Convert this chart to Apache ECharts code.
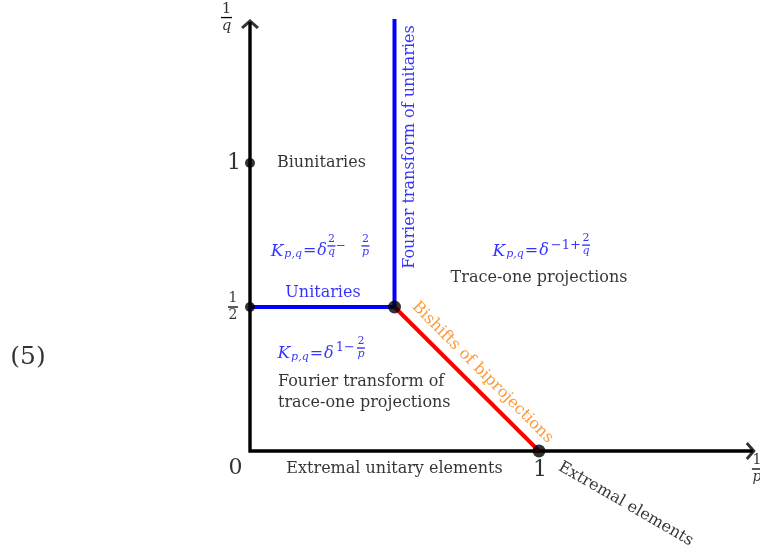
<!DOCTYPE html>
<html>
<head>
<meta charset="utf-8">
<script src="https://cdn.jsdelivr.net/npm/echarts@6/dist/echarts.min.js"></script>
<style>html,body{margin:0;padding:0;background:#fff}#chart{width:760px;height:552px}</style>
</head>
<body>
<div id="chart"></div>
<script>
// ---------- data (diagram coordinates: x = 1/p, y = 1/q) ----------
const axisPath = [[0, 1.49], [0, 0], [1.74, 0]];
const xArrowTip = [1.75, 0];
const yArrowTip = [0, 1.5];
const unitariesSegment = [[0, 0.5], [0.5, 0.5]];
const fourierSegment = [[0.5, 0.5], [0.5, 1.5]];
const bishiftSegment = [[0.5, 0.5], [1, 0]];
const smallDots = [[0, 1], [0, 0.5]];
const bigDots = [[0.5, 0.5], [1, 0]];

const regionTexts = [
  'Biunitaries',
  'Unitaries',
  'Fourier transform of unitaries',
  'Trace-one projections',
  'Bishifts of biprojections',
  'Fourier transform of\ntrace-one projections',
  'Extremal unitary elements',
  'Extremal elements'
];
const regionAnchors = [
  [0.093, 1.0], [0.2526, 0.5486], [0.5536, 1.0556], [1.0, 0.6007],
  [0.8045, 0.2726], [0.0969, 0.2031], [0.5, -0.0625], [1.30, -0.184]
];
const tickTexts = ['0', '1', '1'];
const tickAnchors = [[-0.0502, -0.059], [-0.055, 1.0], [1.0035, -0.066]];
const fracNums = ['1', '1', '1'];
const fracDens = ['q', '2', 'p'];
const fracAnchors = [[-0.0813, 1.505], [-0.0588, 0.5], [1.754, -0.0625]];
const equationTag = '(5)';
const equationAnchor = [-0.768, 0.323];

const formulaSups = ['', '1−', '−1+'];
const formulaFracs = [[['2', 'q'], ['2', 'p']], [['2', 'p']], [['2', 'q']]];
const formulaMainAnchors = [[0.2664, 0.694], [0.363, 0.337], [1.145, 0.694]];
const formulaFracAnchors = [[0.268, 0.712], [0.370, 0.3576], [1.149, 0.715]];

// ---------- styling ----------
const SERIF = 'DejaVu Serif';
const BLUE = '#0000ff', RED = '#ff0000', ORANGE = '#ff8000', INK = '#000000';
const regionColors = [INK, BLUE, BLUE, INK, ORANGE, INK, INK, INK];
const regionRotate = [0, 0, 90, 0, -45, 0, 0, -30];
const regionAlign = ['left', 'center', 'center', 'center', 'center', 'left', 'center', 'center'];
const EXP_W = 8, EXP_GAP = 26;

function fs(extra) { return Object.assign({ fontFamily: SERIF }, extra); }
function isLetter(s) { return /[a-z]/.test(s); }

function labelItem(at, text, opts) {
  return {
    value: at,
    label: Object.assign({
      show: true, position: 'inside', formatter: () => text,
      fontFamily: SERIF, color: INK, fontSize: 16,
      align: 'center', verticalAlign: 'middle'
    }, opts)
  };
}

const labelData = [];
regionTexts.forEach((t, i) => {
  labelData.push(labelItem(regionAnchors[i], t, {
    color: regionColors[i], rotate: regionRotate[i], align: regionAlign[i], lineHeight: 21
  }));
});
tickTexts.forEach((t, i) => {
  labelData.push(labelItem(tickAnchors[i], t, { fontSize: 22 }));
});
labelData.push(labelItem(equationAnchor, equationTag, { fontSize: 25 }));

const fracWidths = [11, 10, 10];
fracNums.forEach((n, i) => {
  const d = fracDens[i];
  const size = i === 0 ? 15 : 14;
  const w = fracWidths[i];
  labelData.push(labelItem(fracAnchors[i], `{fn|${n}}\n{fb| }\n{fd|${d}}`, {
    rich: {
      fn: fs({ color: INK, fontSize: size, width: w, align: 'center', lineHeight: 13 }),
      fb: fs({ width: w, fontSize: 4, lineHeight: 4 }),
      fd: fs({ color: INK, fontSize: size, width: w, align: 'center', lineHeight: 13,
               fontStyle: isLetter(d) ? 'italic' : 'normal' })
    }
  }));
});

formulaSups.forEach((sup, i) => {
  const main = '{fk|K}{fsb|p,q}{feq|=}{fdl|δ}' + (sup ? `{fup|${sup}}` : '');
  labelData.push(labelItem(formulaMainAnchors[i], main, {
    color: BLUE, align: 'right',
    rich: {
      fk: fs({ color: BLUE, fontSize: 17, fontStyle: 'italic' }),
      fsb: fs({ color: BLUE, fontSize: 11, fontStyle: 'italic', padding: [7, 0, 0, 1] }),
      feq: fs({ color: BLUE, fontSize: 16, padding: [0, 1, 0, 1] }),
      fdl: fs({ color: BLUE, fontSize: 16, fontStyle: 'italic' }),
      fup: fs({ color: BLUE, fontSize: 13, padding: [0, 0, 12, 2] })
    }
  }));
  const fr = formulaFracs[i];
  const row1 = fr.map(f => `{xn|${f[0]}}`).join('{xs| }');
  const row2 = fr.map(() => '{xb| }').join('{xm|−}');
  const row3 = fr.map(f => `{xd|${f[1]}}`).join('{xs| }');
  labelData.push(labelItem(formulaFracAnchors[i], row1 + '\n' + row2 + '\n' + row3, {
    color: BLUE, align: 'left',
    rich: {
      xn: fs({ color: BLUE, fontSize: 11, width: EXP_W, align: 'center', lineHeight: 10 }),
      xd: fs({ color: BLUE, fontSize: 11, width: EXP_W, align: 'center', lineHeight: 10, fontStyle: 'italic' }),
      xb: fs({ width: EXP_W, fontSize: 3, lineHeight: 3 }),
      xs: fs({ width: EXP_GAP, fontSize: 10, lineHeight: 10 }),
      xm: fs({ color: BLUE, width: EXP_GAP, fontSize: 12, align: 'left', lineHeight: 3 })
    }
  }));
});

const chart = echarts.init(document.getElementById('chart'), null, { renderer: 'canvas' });
chart.setOption({
  animation: false,
  backgroundColor: '#ffffff',
  grid: { left: 0, right: 0, top: 0, bottom: 0 },
  xAxis: { type: 'value', min: -250 / 289, max: 510 / 289, show: false },
  yAxis: { type: 'value', min: -101 / 288, max: 451 / 288, show: false },
  series: [
    { type: 'line', data: axisPath, showSymbol: false, z: 2,
      lineStyle: { color: INK, width: 3.4, join: 'miter', cap: 'butt' } },
    { type: 'scatter', data: [xArrowTip], z: 3,
      symbol: 'path://M0,2.1 L2.1,0 L10,9 L2.1,18 L0,15.9 L6,9 Z',
      symbolSize: [10, 18], symbolOffset: [-5, 0], itemStyle: { color: INK } },
    { type: 'scatter', data: [yArrowTip], z: 3,
      symbol: 'path://M0,7.9 L9,0 L18,7.9 L15.9,10 L9,4 L2.1,10 Z',
      symbolSize: [18, 10], symbolOffset: [0, 5], itemStyle: { color: INK } },
    { type: 'line', data: unitariesSegment.concat(fourierSegment.slice(1)), showSymbol: false, z: 4,
      lineStyle: { color: BLUE, width: 4, join: 'miter', cap: 'butt' } },
    { type: 'line', data: bishiftSegment, showSymbol: false, z: 4,
      lineStyle: { color: RED, width: 4, cap: 'butt' } },
    { type: 'scatter', data: smallDots, symbolSize: 10, z: 6, itemStyle: { color: INK } },
    { type: 'scatter', data: bigDots, symbolSize: 13, z: 6, itemStyle: { color: INK } },
    { type: 'scatter', data: labelData, symbolSize: 0, z: 8, itemStyle: { color: 'transparent' } }
  ]
});

// fraction bars (typography), placed relative to the fraction label anchors
const bars = [];
function px(at) { return chart.convertToPixel({ gridIndex: 0 }, at); }
fracAnchors.forEach((at, i) => {
  const c = px(at), w = fracWidths[i];
  bars.push({ type: 'rect', z: 100, silent: true,
    shape: { x: c[0] - w / 2, y: c[1] - 0.65, width: w, height: 1.3 }, style: { fill: INK } });
});
formulaFracAnchors.forEach((at, i) => {
  const c = px(at);
  formulaFracs[i].forEach((f, k) => {
    bars.push({ type: 'rect', z: 100, silent: true,
      shape: { x: c[0] + k * (EXP_W + EXP_GAP), y: c[1] - 0.55, width: EXP_W, height: 1.1 },
      style: { fill: BLUE } });
  });
});
chart.setOption({ graphic: bars });
</script>
</body>
</html>
